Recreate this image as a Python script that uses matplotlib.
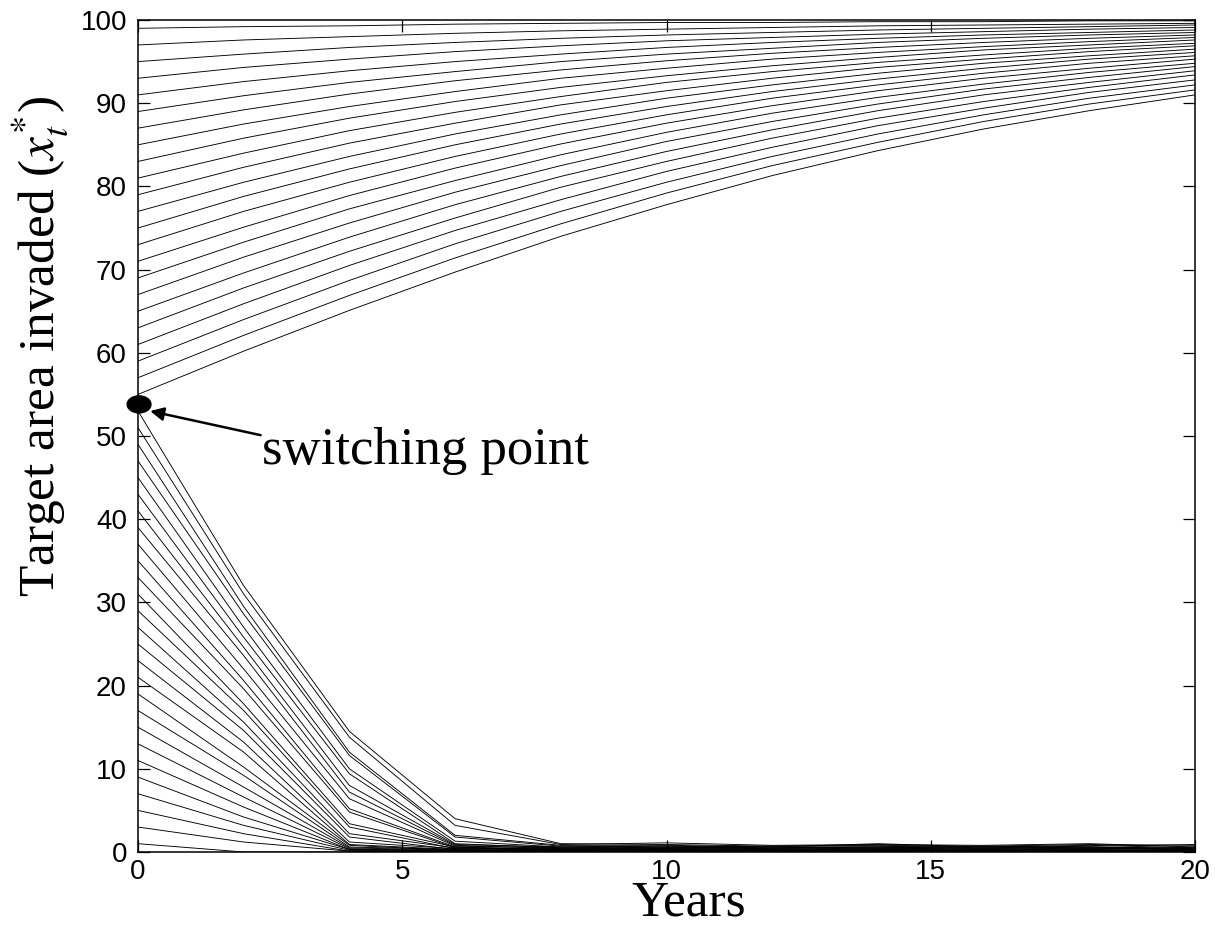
import matplotlib
matplotlib.use("Agg")
import matplotlib.pyplot as plt
from matplotlib.patches import Ellipse

# --- DATA ---
years = [0, 2, 4, 6, 8, 10, 12, 14, 16, 18, 20]

# trajectories starting above the switching point (target area grows)
upper_paths = [
    [55, 60.2, 65.1, 69.7, 74.0, 77.8, 81.3, 84.3, 86.9, 89.1, 91.0],
    [57, 62.1, 66.9, 71.4, 75.5, 79.2, 82.5, 85.3, 87.8, 89.9, 91.6],
    [59, 64.0, 68.7, 73.1, 77.0, 80.5, 83.6, 86.3, 88.6, 90.6, 92.2],
    [61, 65.9, 70.5, 74.7, 78.4, 81.8, 84.7, 87.3, 89.4, 91.3, 92.8],
    [63, 67.8, 72.2, 76.2, 79.9, 83.0, 85.8, 88.2, 90.2, 91.9, 93.4],
    [65, 69.6, 73.9, 77.8, 81.2, 84.2, 86.8, 89.1, 91.0, 92.5, 93.9],
    [67, 71.5, 75.6, 79.3, 82.5, 85.4, 87.8, 89.9, 91.7, 93.1, 94.4],
    [69, 73.3, 77.3, 80.7, 83.8, 86.5, 88.8, 90.7, 92.3, 93.7, 94.8],
    [71, 75.1, 78.9, 82.2, 85.1, 87.6, 89.7, 91.5, 93.0, 94.2, 95.3],
    [73, 77.0, 80.5, 83.6, 86.3, 88.6, 90.6, 92.2, 93.6, 94.8, 95.7],
    [75, 78.8, 82.1, 85.0, 87.5, 89.6, 91.4, 92.9, 94.2, 95.3, 96.1],
    [77, 80.5, 83.6, 86.3, 88.6, 90.6, 92.2, 93.6, 94.8, 95.7, 96.5],
    [79, 82.3, 85.2, 87.6, 89.8, 91.5, 93.0, 94.3, 95.3, 96.2, 96.9],
    [81, 84.0, 86.7, 88.9, 90.8, 92.5, 93.8, 94.9, 95.8, 96.6, 97.2],
    [83, 85.8, 88.2, 90.2, 91.9, 93.3, 94.5, 95.5, 96.4, 97.0, 97.6],
    [85, 87.5, 89.6, 91.4, 93.0, 94.2, 95.3, 96.1, 96.8, 97.4, 97.9],
    [87, 89.2, 91.1, 92.7, 94.0, 95.1, 96.0, 96.7, 97.3, 97.8, 98.2],
    [89, 90.9, 92.5, 93.8, 95.0, 95.9, 96.6, 97.3, 97.8, 98.2, 98.5],
    [91, 92.6, 93.9, 95.0, 95.9, 96.7, 97.3, 97.8, 98.2, 98.5, 98.8],
    [93, 94.3, 95.3, 96.2, 96.9, 97.5, 97.9, 98.3, 98.6, 98.9, 99.1],
    [95, 95.9, 96.7, 97.3, 97.8, 98.2, 98.5, 98.8, 99.0, 99.2, 99.4],
    [97, 97.6, 98.0, 98.4, 98.7, 98.9, 99.1, 99.3, 99.4, 99.5, 99.6],
    [99, 99.2, 99.3, 99.5, 99.6, 99.7, 99.7, 99.8, 99.8, 99.9, 99.9],
]

# trajectories starting below the switching point (eradicated)
lower_paths = [
    [53, 32.0, 14.5, 4.0, 1.0, 0.9, 0.7, 0.8, 0.7, 0.9, 0.8],
    [51, 31.0, 13.8, 3.2, 0.9, 1.1, 0.8, 0.9, 0.8, 1.0, 0.6],
    [49, 29.5, 12.0, 2.0, 0.8, 0.8, 0.6, 1.0, 0.6, 0.8, 0.5],
    [47, 28.6, 11.6, 1.8, 0.7, 0.6, 0.7, 0.7, 0.5, 0.7, 0.9],
    [45, 27.0, 10.0, 1.3, 0.6, 0.7, 0.5, 0.6, 0.7, 0.6, 0.4],
    [43, 25.8, 9.4, 1.0, 0.5, 0.5, 0.6, 0.5, 0.6, 0.5, 0.6],
    [41, 24.6, 8.0, 0.9, 0.6, 0.4, 0.5, 0.6, 0.4, 0.6, 0.3],
    [39, 23.6, 7.2, 0.8, 0.4, 0.6, 0.4, 0.4, 0.5, 0.4, 0.5],
    [37, 22.0, 6.4, 0.7, 0.5, 0.3, 0.3, 0.5, 0.3, 0.5, 0.2],
    [35, 20.6, 5.2, 0.6, 0.3, 0.5, 0.4, 0.3, 0.4, 0.3, 0.4],
    [33, 19.6, 4.8, 0.5, 0.4, 0.2, 0.2, 0.4, 0.2, 0.4, 0.3],
    [31, 17.8, 3.4, 0.6, 0.2, 0.4, 0.3, 0.2, 0.3, 0.2, 0.2],
    [29, 17.0, 3.0, 0.4, 0.3, 0.3, 0.2, 0.3, 0.2, 0.3, 0.1],
    [27, 15.6, 2.2, 0.5, 0.2, 0.2, 0.1, 0.2, 0.1, 0.2, 0.2],
    [25, 14.6, 1.8, 0.3, 0.1, 0.1, 0.2, 0.1, 0.2, 0.1, 0.1],
    [23, 13.2, 1.2, 0.4, 0.2, 0.2, 0.1, 0.1, 0.1, 0.1, 0.0],
    [21, 12.0, 0.9, 0.3, 0.1, 0.1, 0.1, 0.1, 0.0, 0.1, 0.1],
    [19, 10.2, 0.8, 0.2, 0.1, 0.0, 0.0, 0.1, 0.1, 0.0, 0.0],
    [17, 9.2, 0.6, 0.3, 0.0, 0.1, 0.0, 0.0, 0.0, 0.0, 0.0],
    [15, 7.8, 0.5, 0.2, 0.1, 0.0, 0.1, 0.0, 0.0, 0.1, 0.0],
    [13, 6.6, 0.4, 0.1, 0.0, 0.0, 0.0, 0.0, 0.0, 0.0, 0.0],
    [11, 5.4, 0.3, 0.2, 0.0, 0.0, 0.0, 0.0, 0.0, 0.0, 0.0],
    [9, 4.2, 0.3, 0.1, 0.0, 0.0, 0.0, 0.0, 0.0, 0.0, 0.0],
    [7, 3.2, 0.2, 0.1, 0.0, 0.0, 0.0, 0.0, 0.0, 0.0, 0.0],
    [5, 2.2, 0.1, 0.0, 0.0, 0.0, 0.0, 0.0, 0.0, 0.0, 0.0],
    [3, 1.2, 0.1, 0.0, 0.0, 0.0, 0.0, 0.0, 0.0, 0.0, 0.0],
    [1, 0.0, 0.0, 0.0, 0.0, 0.0, 0.0, 0.0, 0.0, 0.0, 0.0],
]

switch_year = 0
switch_value = 53.8
x_ticks = [0, 5, 10, 15, 20]
y_ticks = list(range(0, 101, 10))

# --- STYLE ---
plt.rcParams["mathtext.fontset"] = "stix"
tick_font = "Liberation Sans"
label_font = "Liberation Serif"

fig = plt.figure(figsize=(12.15, 9.42), dpi=100)
ax = fig.add_axes([138 / 1215, 1 - 852 / 942, 1057 / 1215, 832 / 942])

for path in upper_paths + lower_paths:
    ax.plot(years, path, color="black", linewidth=0.65)

ax.set_xlim(0, 20)
ax.set_ylim(0, 100)
ax.set_xticks(x_ticks)
ax.set_yticks(y_ticks)
ax.tick_params(direction="in", length=8.5, width=0.9, top=True, right=True,
               labelsize=20)
ax.tick_params(axis="x", pad=5)
ax.tick_params(axis="y", pad=8)
for lbl in ax.get_xticklabels() + ax.get_yticklabels():
    lbl.set_fontfamily(tick_font)
for sp in ax.spines.values():
    sp.set_linewidth(1.1)

# switching point marker and arrow
ax.add_patch(Ellipse((switch_year + 0.02, switch_value), 0.45, 2.05,
                     color="black", clip_on=False, zorder=5))
ax.annotate("", xy=(0.23, 53.0), xytext=(2.32, 50.1),
            arrowprops=dict(arrowstyle="-|>", color="black", lw=1.8,
                            mutation_scale=20, shrinkA=0, shrinkB=0))
ax.text(2.35, 48.2, "switching point", family=label_font, fontsize=38,
        ha="left", va="center")

ax.set_xlabel("Years", family=label_font, fontsize=37, va="baseline")
ax.xaxis.set_label_coords(0.521, -0.0769)
ax.set_ylabel(r"Target area invaded ($x_{t}^{*}$)", family=label_font,
              fontsize=37, va="center")
ax.yaxis.set_label_coords(-0.093, 0.607)

fig.savefig("out.png", dpi=100)
